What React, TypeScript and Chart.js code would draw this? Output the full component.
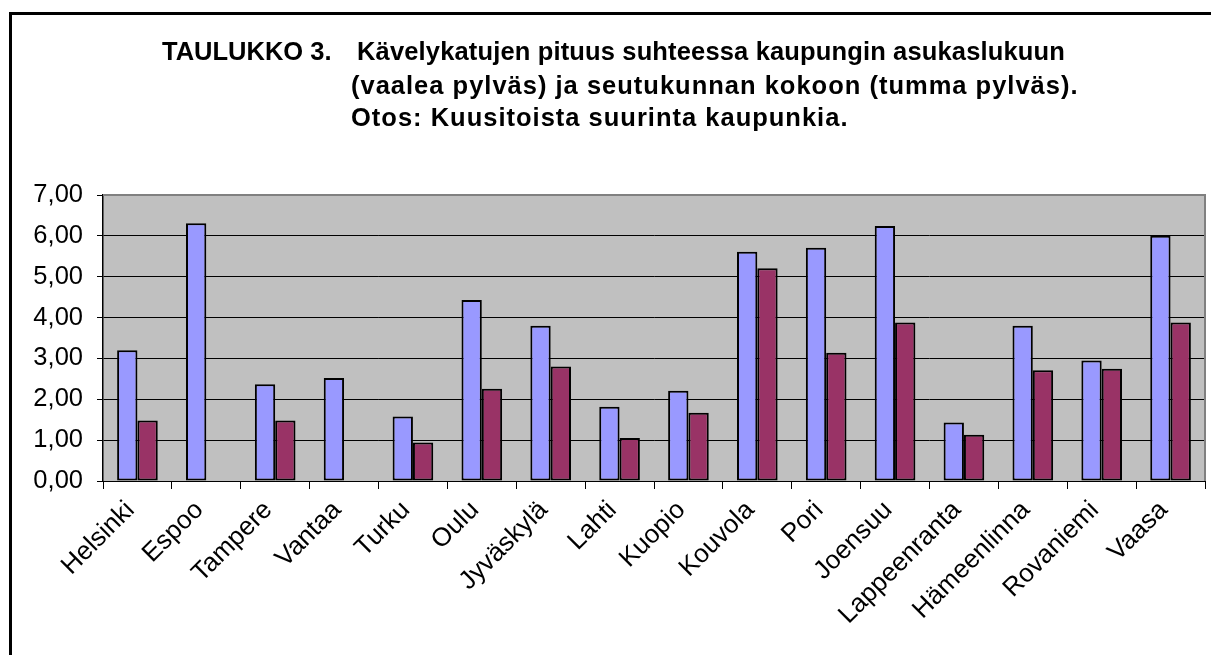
import React, { useEffect, useRef } from "react";
import { Chart, registerables } from "chart.js";

Chart.register(...registerables);

const cities = [
  "Helsinki", "Espoo", "Tampere", "Vantaa", "Turku", "Oulu", "Jyväskylä", "Lahti",
  "Kuopio", "Kouvola", "Pori", "Joensuu", "Lappeenranta", "Hämeenlinna", "Rovaniemi", "Vaasa",
];
const perResidents = [3.2, 6.31, 2.37, 2.52, 1.58, 4.43, 3.8, 1.82, 2.21, 5.61, 5.71, 6.24, 1.43, 3.8, 2.95, 6.0];
const perRegion = [1.48, null, 1.48, null, 0.94, 2.26, 2.8, 1.05, 1.67, 5.21, 3.14, 3.88, 1.13, 2.71, 2.75, 3.88];
const yTicks = [0, 1, 2, 3, 4, 5, 6, 7];

const FONT = '"Liberation Sans", Arial, sans-serif';

const bgPlugin = {
  id: "plotBg",
  beforeDraw(chart: any) {
    const { ctx, chartArea } = chart;
    ctx.save();
    ctx.fillStyle = "#C0C0C0";
    ctx.fillRect(chartArea.left, chartArea.top, chartArea.right - chartArea.left, chartArea.bottom - chartArea.top);
    ctx.restore();
  },
  afterDraw(chart: any) {
    const { ctx, chartArea } = chart;
    ctx.save();
    ctx.strokeStyle = "#808080";
    ctx.lineWidth = 2;
    ctx.beginPath();
    ctx.moveTo(chartArea.left, chartArea.top);
    ctx.lineTo(chartArea.right, chartArea.top);
    ctx.lineTo(chartArea.right, chartArea.bottom);
    ctx.stroke();
    ctx.restore();
  },
};

export default function App() {
  const ref = useRef<HTMLCanvasElement | null>(null);
  useEffect(() => {
    if (!ref.current) return;
    const chart = new Chart(ref.current, {
      type: "bar",
      data: {
        labels: cities,
        datasets: [
          {
            label: "asukasluku",
            data: perResidents,
            backgroundColor: "#9999FF",
            borderColor: "#000000",
            borderWidth: 2,
            borderSkipped: false,
            categoryPercentage: 0.59,
            barPercentage: 1,
          },
          {
            label: "seutukunta",
            data: perRegion as any,
            backgroundColor: "#993366",
            borderColor: "#000000",
            borderWidth: 2,
            borderSkipped: false,
            categoryPercentage: 0.59,
            barPercentage: 1,
          },
        ],
      },
      plugins: [bgPlugin],
      options: {
        responsive: false,
        animation: false,
        layout: { padding: { left: 0, top: 195, right: 6, bottom: 0 } },
        plugins: { legend: { display: false }, title: { display: false }, tooltip: { enabled: false } },
        scales: {
          x: {
            afterFit(scale: any) { scale.height = 174; },
            grid: { offset: true, drawOnChartArea: false, drawTicks: true, tickLength: 8, color: "#000000", lineWidth: 1 },
            border: { display: true, color: "#000000", width: 1 },
            ticks: {
              autoSkip: false,
              minRotation: 45,
              maxRotation: 45,
              color: "#000000",
              padding: 6,
              labelOffset: -7,
              font: { family: FONT, size: 26 },
            },
          },
          y: {
            min: 0,
            max: 7,
            afterFit(scale: any) { scale.width = 103; },
            afterBuildTicks(scale: any) { scale.ticks = yTicks.map((v) => ({ value: v })); },
            grid: { color: "#000000", lineWidth: 1, tickLength: 6, drawTicks: true },
            border: { display: true, color: "#000000", width: 1.5 },
            ticks: {
              color: "#000000",
              padding: 14,
              font: { family: FONT, size: 25.5 },
              callback: (v: any) => Number(v).toFixed(2).replace(".", ","),
            },
          },
        },
      },
    });
    return () => chart.destroy();
  }, []);

  const titleStyle: React.CSSProperties = {
    position: "absolute",
    fontFamily: FONT,
    fontWeight: "bold",
    fontSize: 25.5,
    lineHeight: "30px",
    whiteSpace: "nowrap",
    color: "#000",
  };

  return (
    <div style={{ position: "fixed", left: 0, top: 0, width: 1211, height: 655, overflow: "hidden", background: "#fff" }}>
      <div style={{ position: "absolute", left: 9, top: 12, width: 1400, height: 900, borderLeft: "3px solid #000", borderTop: "3px solid #000" }} />
      <canvas ref={ref} width={1211} height={655} style={{ position: "absolute", left: 0, top: 0, width: 1211, height: 655 }} />
      <div style={{ ...titleStyle, left: 162, top: 36 }}>TAULUKKO 3.</div>
      <div style={{ ...titleStyle, left: 357, top: 36, letterSpacing: "0.15px" }}>Kävelykatujen pituus suhteessa kaupungin asukaslukuun</div>
      <div style={{ ...titleStyle, left: 351, top: 70, letterSpacing: "1px" }}>(vaalea pylväs) ja seutukunnan kokoon (tumma pylväs).</div>
      <div style={{ ...titleStyle, left: 351, top: 102, letterSpacing: "1px" }}>Otos: Kuusitoista suurinta kaupunkia.</div>
    </div>
  );
}
